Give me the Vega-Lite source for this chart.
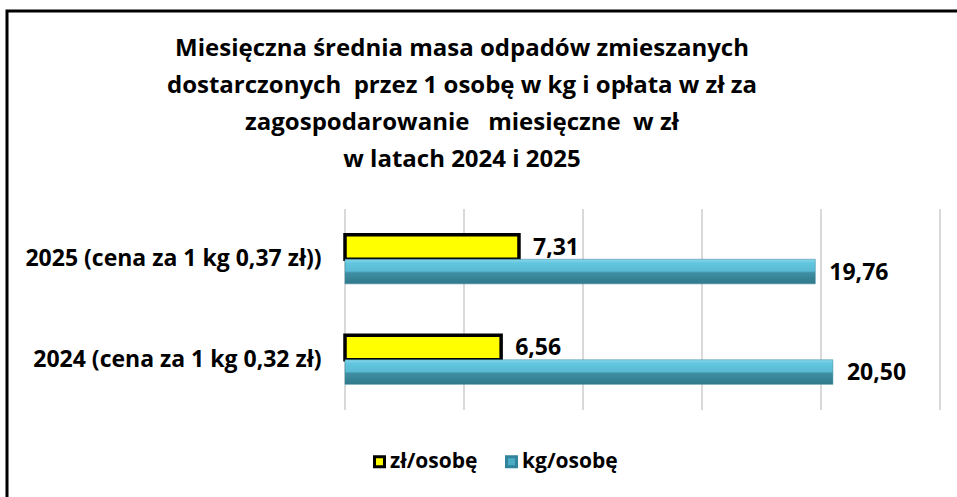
{
  "$schema": "https://vega.github.io/schema/vega-lite/v6.json",
  "width": 960,
  "height": 500,
  "autosize": "none",
  "padding": {"left": 7, "top": 11, "right": 0, "bottom": 0},
  "background": "white",
  "config": {
    "view": {"stroke": "#000000", "strokeWidth": 3},
    "font": "Open Sans",
    "locale": {"number": {"decimal": ",", "thousands": " ", "grouping": [3], "currency": ["", " zł"]}}
  },
  "title": {
    "text": ["Miesięczna średnia masa odpadów zmieszanych", "dostarczonych \u00a0przez 1 osobę w kg i opłata w zł za", "zagospodarowanie \u00a0 miesięczne \u00a0w zł", "w latach 2024 i 2025"],
    "font": "Open Sans",
    "fontSize": 24,
    "fontWeight": "bold",
    "lineHeight": 37,
    "color": "#000000",
    "anchor": "middle",
    "frame": "group",
    "baseline": "top",
    "offset": 0,
    "dy": 161,
    "dx": -25
  },
  "data": {
    "values": [
      {"rok": "2025 (cena za 1 kg 0,37 zł))", "seria": "zł/osobę", "wartosc": 7.31},
      {"rok": "2025 (cena za 1 kg 0,37 zł))", "seria": "kg/osobę", "wartosc": 19.76},
      {"rok": "2024 (cena za 1 kg 0,32 zł)", "seria": "zł/osobę", "wartosc": 6.56},
      {"rok": "2024 (cena za 1 kg 0,32 zł)", "seria": "kg/osobę", "wartosc": 20.50}
    ]
  },
  "layer": [
    {
      "data": {"values": [{"v": 0}, {"v": 5}, {"v": 10}, {"v": 15}, {"v": 20}, {"v": 25}]},
      "mark": {"type": "rule", "color": "#D9D9D9", "strokeWidth": 2},
      "encoding": {
        "x": {"field": "v", "type": "quantitative", "scale": {"domain": [0, 25], "range": [338, 933], "nice": false, "zero": false}, "axis": null},
        "y": {"datum": 0, "type": "quantitative", "scale": {"domain": [0, 1], "range": [399, 198], "nice": false, "zero": false}, "axis": null},
        "y2": {"datum": 1}
      }
    },
    {
      "layer": [
        {
          "transform": [{"filter": "datum.seria === 'zł/osobę'"}],
          "mark": {"type": "bar", "strokeWidth": 3.5},
          "encoding": {
            "y": {"field": "rok", "type": "nominal", "sort": ["2025 (cena za 1 kg 0,37 zł))", "2024 (cena za 1 kg 0,32 zł)"],
              "scale": {"domain": ["2025 (cena za 1 kg 0,37 zł))", "2024 (cena za 1 kg 0,32 zł)"], "range": [198, 399], "paddingInner": 0.51, "paddingOuter": 0.255},
              "axis": {"orient": "left", "offset": -338, "ticks": false, "tickSize": 0, "domain": false, "grid": false, "title": null, "labelPadding": 24, "labelFont": "Open Sans", "labelFontSize": 23, "labelFontWeight": "bold", "labelColor": "#000000", "labelLimit": 500}},
            "yOffset": {"field": "seria", "type": "nominal", "scale": {"domain": ["zł/osobę", "kg/osobę"], "paddingInner": 0, "paddingOuter": 0}},
            "x": {"field": "wartosc", "type": "quantitative", "scale": {"domain": [0, 25], "range": [338, 933], "nice": false}, "axis": null},
            "color": {"field": "seria", "type": "nominal", "scale": {"domain": ["zł/osobę", "kg/osobę"], "range": ["#FFFF00", "#4BACC6"]},
              "legend": {"orient": "none", "legendX": 362, "legendY": 440, "direction": "horizontal", "title": null, "symbolType": "square", "symbolSize": 100, "symbolStrokeWidth": 3, "labelFont": "Open Sans", "labelFontSize": 21, "labelFontWeight": "bold", "labelColor": "#000000", "columnPadding": 22, "labelOffset": 0}},
            "stroke": {"field": "seria", "type": "nominal", "scale": {"domain": ["zł/osobę", "kg/osobę"], "range": ["#000000", "#31849B"]}}
          }
        },
        {
          "transform": [{"filter": "datum.seria === 'kg/osobę'"}],
          "mark": {
            "type": "bar",
            "stroke": "#31849B",
            "strokeWidth": 0.5,
            "fill": {"gradient": "linear", "x1": 0, "y1": 0, "x2": 0, "y2": 1, "stops": [
              {"offset": 0, "color": "#8AD8EC"},
              {"offset": 0.15, "color": "#63C6DF"},
              {"offset": 0.48, "color": "#58BAD3"},
              {"offset": 0.55, "color": "#3F8FA3"},
              {"offset": 1, "color": "#30788A"}
            ]}
          },
          "encoding": {
            "y": {"field": "rok", "type": "nominal"},
            "yOffset": {"field": "seria", "type": "nominal"},
            "x": {"field": "wartosc", "type": "quantitative"}
          }
        },
        {
          "mark": {"type": "text", "align": "left", "baseline": "middle", "dx": 14, "dy": 1, "font": "Open Sans", "fontSize": 23, "fontWeight": "bold", "color": "#000000"},
          "encoding": {
            "y": {"field": "rok", "type": "nominal"},
            "yOffset": {"field": "seria", "type": "nominal"},
            "x": {"field": "wartosc", "type": "quantitative"},
            "text": {"field": "wartosc", "type": "quantitative", "format": ".2f"}
          }
        }
      ]
    }
  ],
  "resolve": {"scale": {"y": "independent"}}
}
